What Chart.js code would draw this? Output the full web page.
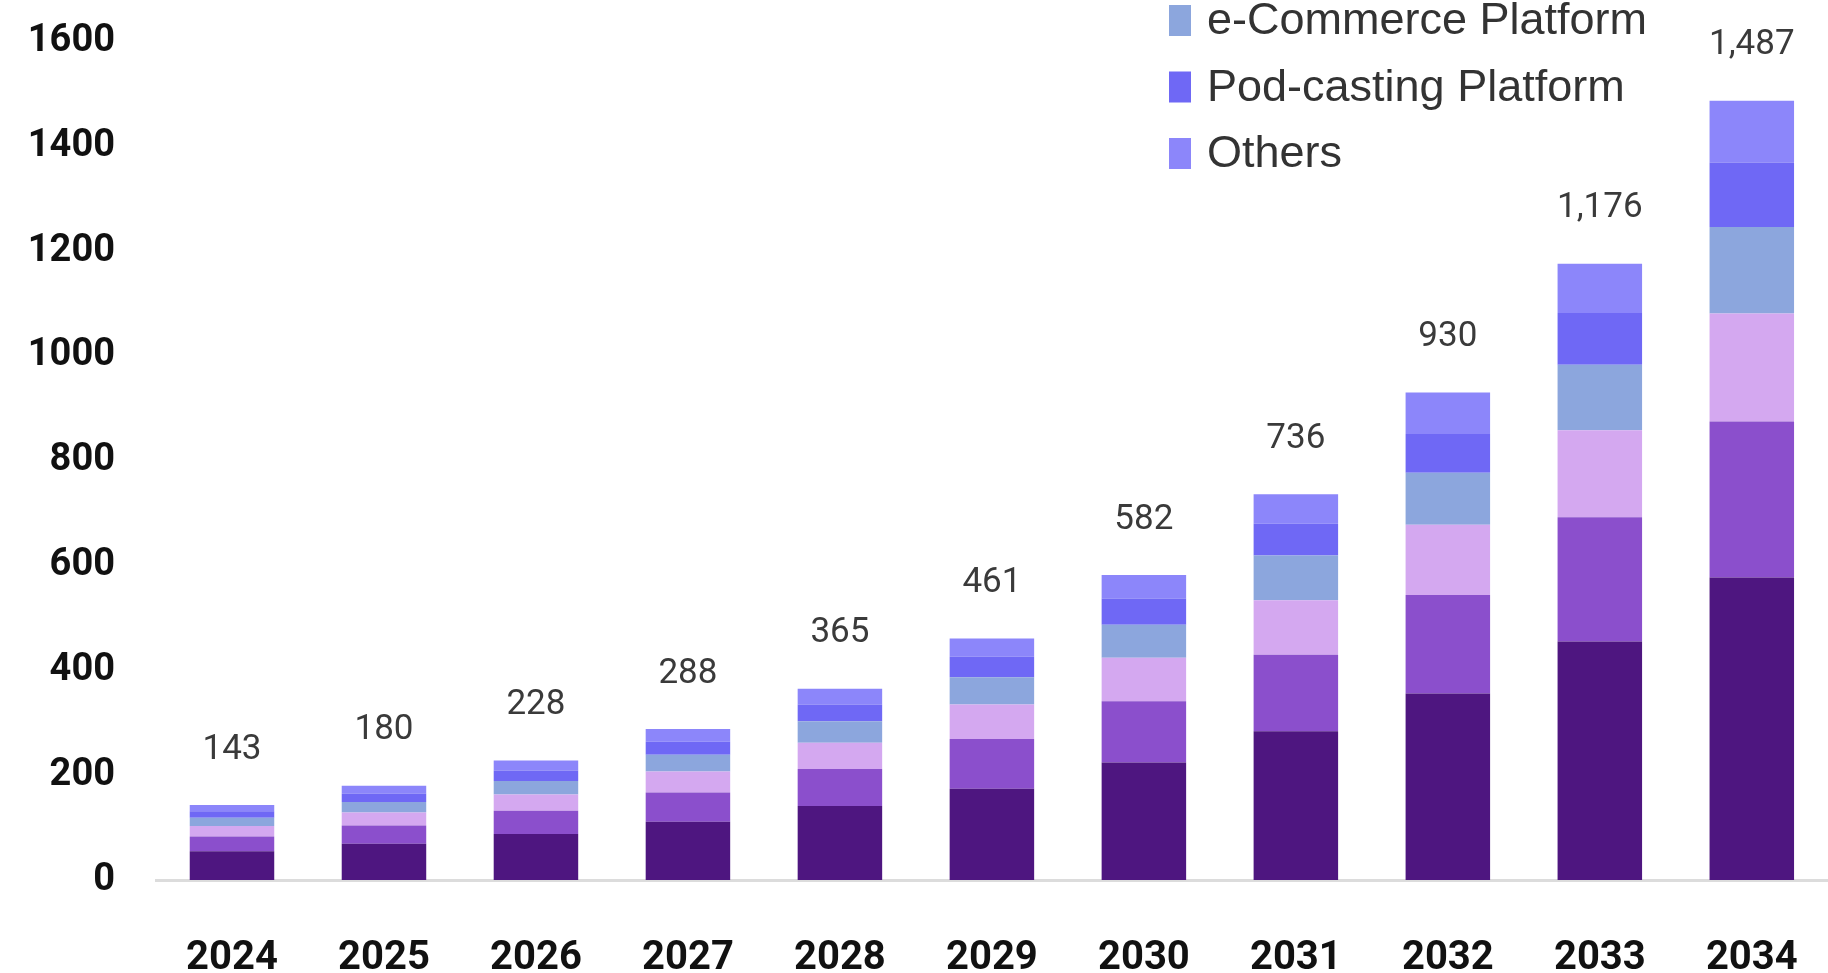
<!DOCTYPE html>
<html>
<head>
<meta charset="utf-8">
<script src="https://cdn.jsdelivr.net/npm/chart.js@4.4.1/dist/chart.umd.min.js"></script>
<style>
	html, body { margin: 0; padding: 0; background: #fff; overflow: hidden; }
	#wrap { position: relative; width: 1845px; height: 990px; }
</style>
</head>
<body>
<div id="wrap"><canvas id="market-chart"></canvas></div>
<script>
const years = ['2024', '2025', '2026', '2027', '2028', '2029', '2030', '2031', '2032', '2033', '2034'];
const segment_names = ['Social Media Platform', 'Video Streaming Platform', 'Gaming Platform', 'e-Commerce Platform', 'Pod-casting Platform', 'Others'];
const social_media = [55, 69, 88, 111, 141, 174, 224, 284, 356, 455, 577];
const video_streaming = [28, 35, 44, 56, 71, 95, 117, 146, 188, 237, 298];
const gaming = [20, 25, 31, 40, 50, 66, 83, 104, 134, 166, 206];
const ecommerce = [16, 20, 26, 32, 41, 52, 63, 85, 99, 125, 165];
const podcasting = [12, 16, 20, 25, 32, 39, 50, 61, 74, 99, 123];
const others = [12, 15, 19, 24, 30, 35, 45, 56, 79, 94, 118];
const totals = [143, 180, 228, 288, 365, 461, 582, 736, 930, 1176, 1487];
const y_ticks = [0, 200, 400, 600, 800, 1000, 1200, 1400, 1600];
const colors = ['#4E1680', '#8B4FCC', '#D4A8F0', '#8CA6DD', '#6F68F5', '#8C86FA'];

const series = [social_media, video_streaming, gaming, ecommerce, podcasting, others];

// totals written above every stack
const totalLabels = {
	id: 'totalLabels',
	afterDatasetsDraw(chart) {
		const { ctx, scales: { x, y } } = chart;
		ctx.save();
		ctx.font = '35px Roboto, sans-serif';
		ctx.fillStyle = '#3a3a3a';
		ctx.textAlign = 'center';
		ctx.textBaseline = 'middle';
		totals.forEach((t, i) => {
			ctx.fillText(t.toLocaleString('en-US'), x.getPixelForValue(i), y.getPixelForValue(t) - 55);
		});
		ctx.restore();
	}
};

// legend drawn over the plot, upper rows fall off the top edge
const cornerLegend = {
	id: 'cornerLegend',
	afterDraw(chart) {
		const { ctx } = chart;
		ctx.save();
		ctx.font = '45px "Liberation Sans", sans-serif';
		ctx.textBaseline = 'middle';
		chart.data.datasets.forEach((ds, i) => {
			const cy = 153 - (chart.data.datasets.length - 1 - i) * 66.5;
			ctx.fillStyle = ds.backgroundColor;
			ctx.fillRect(1169, cy - 15, 22, 31);
			ctx.fillStyle = '#333';
			ctx.fillText(ds.label, 1207, cy + 2);
		});
		ctx.restore();
	}
};

const chart = new Chart(document.getElementById('market-chart'), {
	type: 'bar',
	data: {
		labels: years,
		datasets: series.map((values, i) => ({
			label: segment_names[i],
			data: values,
			backgroundColor: colors[i],
			borderWidth: 0,
			categoryPercentage: 1,
			barPercentage: 0.556
		}))
	},
	options: {
		responsive: true,
		maintainAspectRatio: false,
		animation: false,
		layout: { padding: { top: 41.5, right: 6.5, left: 0, bottom: 0 } },
		plugins: {
			legend: { display: false },
			tooltip: { enabled: false }
		},
		scales: {
			x: {
				stacked: true,
				grid: { display: false },
				border: { display: true, color: '#dcdcdc', width: 3 },
				ticks: {
					color: '#111',
					padding: 47,
					font: { family: 'Roboto, sans-serif', size: 40, weight: 'bold' }
				},
				afterFit: scale => { scale.height = 110; }
			},
			y: {
				stacked: true,
				min: 0,
				max: 1600,
				grid: { display: false, drawTicks: false },
				border: { display: false },
				afterBuildTicks: scale => { scale.ticks = y_ticks.map(v => ({ value: v })); },
				ticks: {
					color: '#111',
					padding: 41,
					font: { family: 'Roboto, sans-serif', size: 38, weight: 'bold' },
					callback: v => String(v)
				},
				afterFit: scale => {
					scale.width = 156;
					scale.paddingTop = 0;
					scale.paddingBottom = 0;
				}
			}
		}
	},
	plugins: [totalLabels, cornerLegend]
});
</script>
</body>
</html>
